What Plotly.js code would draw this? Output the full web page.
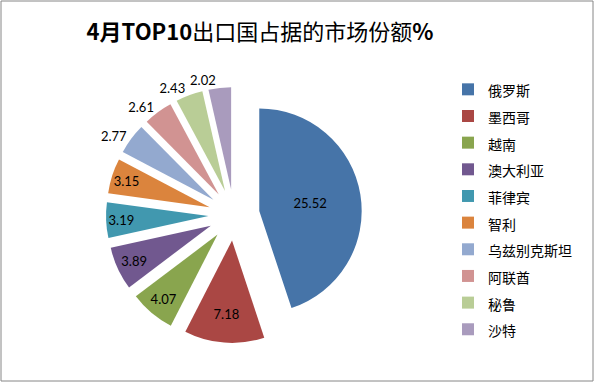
<!DOCTYPE html>
<html>
<head>
<meta charset="utf-8">
<script src="https://cdn.plot.ly/plotly-3.0.1.min.js"></script>
<style>html,body{margin:0;padding:0;background:#fff;}#chart{width:594px;height:382px;}</style>
</head>
<body>
<div id="chart"></div>
<script>
const countries = ["俄罗斯","墨西哥","越南","澳大利亚","菲律宾","智利","乌兹别克斯坦","阿联酋","秘鲁","沙特"];
const shares = [25.52, 7.18, 4.07, 3.89, 3.19, 3.15, 2.77, 2.61, 2.43, 2.02];
const sliceColors = ["#4674A8","#AA4744","#89A54E","#71588F","#4198AF","#DB843D","#93A9CF","#D19392","#B9CD96","#A99BBD"];
const textPos = ["inside","inside","inside","inside","inside","inside","outside","outside","outside","outside"];

const W = 594, H = 382;
const domain = {x: [106/W, 362/W], y: [1 - 343/H, 1 - 87/H]};
const lastIdx = shares.length - 1;
const labelText = shares.map(v => v.toFixed(2));
const textFont = {family: "Lato, 'Liberation Sans', sans-serif", size: 13, color: "#000"};

// main pie: all slices, labels except the last (drawn by an overlay pie so it is not scooted)
const mainPie = {
  type: "pie",
  labels: countries.map(c => '<span style="font-size:14px">' + c + '</span>'),
  values: shares,
  text: labelText.map((t, i) => i === lastIdx ? "" : t),
  textinfo: "text",
  textposition: textPos,
  insidetextorientation: "horizontal",
  sort: false,
  direction: "clockwise",
  rotation: 0,
  pull: shares.map(() => 0.25),
  marker: {colors: sliceColors, line: {width: 0}},
  textfont: textFont,
  hoverinfo: "label+value",
  domain: domain
};

// overlay pie: transparent, only carries the last slice's outside label
const labelPie = {
  type: "pie",
  labels: countries,
  values: shares,
  text: labelText.map((t, i) => i === lastIdx ? t : ""),
  textinfo: "text",
  textposition: textPos,
  sort: false,
  direction: "clockwise",
  rotation: 0,
  pull: shares.map(() => 0.25),
  marker: {colors: shares.map(() => "rgba(0,0,0,0)"), line: {width: 0}},
  textfont: textFont,
  showlegend: false,
  hoverinfo: "skip",
  domain: domain
};

const layout = {
  width: W, height: H,
  margin: {l: 0, r: 0, t: 0, b: 0},
  paper_bgcolor: "#fff",
  showlegend: true,
  title: {
    text: "<b>4月TOP10</b>出口国占据的市场份额<b>%</b>",
    font: {family: "'Noto Sans CJK SC', 'Liberation Sans', sans-serif", size: 22, color: "#000"},
    x: 260/W, xanchor: "center", xref: "paper",
    y: 1 - 32/H, yanchor: "middle", yref: "paper"
  },
  legend: {
    x: 448/W, xanchor: "left",
    y: 1 - 71/H, yanchor: "top",
    font: {family: "'Noto Sans CJK SC', sans-serif", size: 18.2, color: "#000"},
    bgcolor: "rgba(0,0,0,0)",
    traceorder: "normal"
  },
  shapes: [{
    type: "rect", xref: "paper", yref: "paper",
    x0: 1/W, x1: 1 - 1/W, y0: 1/H, y1: 1 - 1/H,
    line: {color: "#868686", width: 1}, fillcolor: "rgba(0,0,0,0)"
  }]
};

Plotly.newPlot("chart", [mainPie, labelPie], layout, {displayModeBar: false, staticPlot: true});
</script>
</body>
</html>
